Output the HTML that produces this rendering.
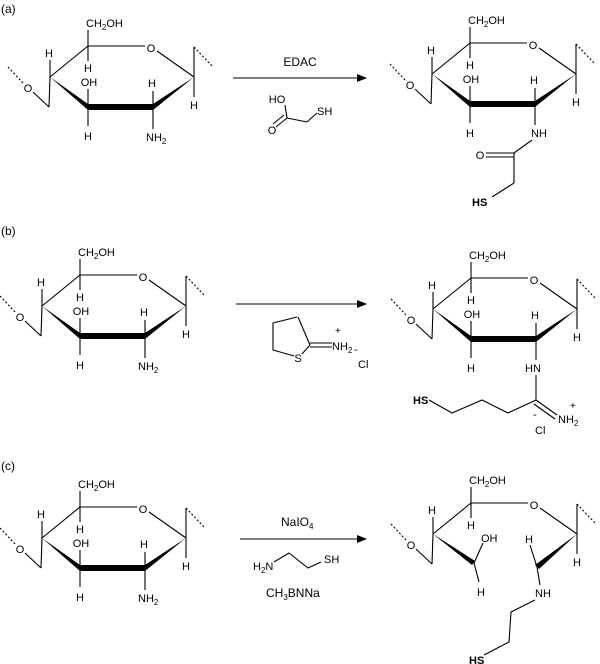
<!DOCTYPE html>
<html><head><meta charset="utf-8"><style>
html,body{margin:0;padding:0;background:#fff;}
svg{display:block;font-family:"Liberation Sans",Arial,sans-serif;font-size:11px;}
text{fill:#000;}
.m{text-anchor:middle;}
line,polyline{stroke:#000;stroke-width:1.1;fill:none;}
.d{stroke-dasharray:2,2;}
.b{font-weight:bold;}
</style></head><body>
<svg width="600" height="664" viewBox="0 0 600 664" xmlns="http://www.w3.org/2000/svg">
<defs><marker id="ar" markerWidth="10" markerHeight="8" refX="9" refY="4" orient="auto" markerUnits="userSpaceOnUse"><path d="M0,0 L10,4 L0,8 Z" fill="#000"/></marker></defs>

<text x="1" y="13" font-size="12">(a)</text>
<text x="1" y="235" font-size="12">(b)</text>
<text x="1" y="470" font-size="12">(c)</text>

<!-- Left (a) -->
<g transform="translate(0,0)">
<text x="86" y="27">CH<tspan font-size="8" dy="3">2</tspan><tspan dy="-3">OH</tspan></text>
<line x1="88" y1="46" x2="88" y2="30"/>
<line x1="50" y1="77" x2="88" y2="46"/><line x1="88" y1="46" x2="145" y2="46"/>
<text class="m" x="151" y="52">O</text><line x1="157" y1="51" x2="194" y2="77"/>
<line x1="194" y1="77" x2="194" y2="47"/><line class="d" x1="194" y1="47" x2="212" y2="66"/>
<line x1="194" y1="77" x2="194" y2="97"/><text class="m" x="194" y="109">H</text>
<line x1="88" y1="46" x2="88" y2="61"/><text class="m" x="88" y="72">H</text>
<line x1="50" y1="77" x2="50" y2="60"/><text class="m" x="49" y="57">H</text>
<line x1="50" y1="77" x2="49" y2="107"/><line x1="49" y1="107" x2="33" y2="92"/>
<text class="m" x="28" y="92">O</text><line class="d" x1="23" y1="83" x2="8" y2="67"/>
<polygon points="50,77 88,104 88,110"/><rect x="88" y="104" width="65" height="6"/><polygon points="153,104 153,110 194,77"/>
<text class="m" x="89" y="86">OH</text><line x1="88" y1="89" x2="88" y2="107"/>
<line x1="88" y1="107" x2="88" y2="126"/><text class="m" x="88" y="140">H</text>
<line x1="153" y1="107" x2="153" y2="91"/><text class="m" x="152" y="87">H</text>
<line x1="153" y1="107" x2="153" y2="129"/><text x="146" y="141">NH<tspan font-size="8" dy="3">2</tspan></text>
</g>

<!-- Left (b) -->
<g transform="translate(-8,229)">
<text x="86" y="27">CH<tspan font-size="8" dy="3">2</tspan><tspan dy="-3">OH</tspan></text>
<line x1="88" y1="46" x2="88" y2="30"/>
<line x1="50" y1="77" x2="88" y2="46"/><line x1="88" y1="46" x2="145" y2="46"/>
<text class="m" x="151" y="52">O</text><line x1="157" y1="51" x2="194" y2="77"/>
<line x1="194" y1="77" x2="194" y2="47"/><line class="d" x1="194" y1="47" x2="212" y2="66"/>
<line x1="194" y1="77" x2="194" y2="97"/><text class="m" x="194" y="109">H</text>
<line x1="88" y1="46" x2="88" y2="61"/><text class="m" x="88" y="72">H</text>
<line x1="50" y1="77" x2="50" y2="60"/><text class="m" x="49" y="57">H</text>
<line x1="50" y1="77" x2="49" y2="107"/><line x1="49" y1="107" x2="33" y2="92"/>
<text class="m" x="28" y="92">O</text><line class="d" x1="23" y1="83" x2="8" y2="67"/>
<polygon points="50,77 88,104 88,110"/><rect x="88" y="104" width="65" height="6"/><polygon points="153,104 153,110 194,77"/>
<text class="m" x="89" y="86">OH</text><line x1="88" y1="89" x2="88" y2="107"/>
<line x1="88" y1="107" x2="88" y2="126"/><text class="m" x="88" y="140">H</text>
<line x1="153" y1="107" x2="153" y2="91"/><text class="m" x="152" y="87">H</text>
<line x1="153" y1="107" x2="153" y2="129"/><text x="146" y="141">NH<tspan font-size="8" dy="3">2</tspan></text>
</g>

<!-- Left (c) -->
<g transform="translate(-8,461)">
<text x="86" y="27">CH<tspan font-size="8" dy="3">2</tspan><tspan dy="-3">OH</tspan></text>
<line x1="88" y1="46" x2="88" y2="30"/>
<line x1="50" y1="77" x2="88" y2="46"/><line x1="88" y1="46" x2="145" y2="46"/>
<text class="m" x="151" y="52">O</text><line x1="157" y1="51" x2="194" y2="77"/>
<line x1="194" y1="77" x2="194" y2="47"/><line class="d" x1="194" y1="47" x2="212" y2="66"/>
<line x1="194" y1="77" x2="194" y2="97"/><text class="m" x="194" y="109">H</text>
<line x1="88" y1="46" x2="88" y2="61"/><text class="m" x="88" y="72">H</text>
<line x1="50" y1="77" x2="50" y2="60"/><text class="m" x="49" y="57">H</text>
<line x1="50" y1="77" x2="49" y2="107"/><line x1="49" y1="107" x2="33" y2="92"/>
<text class="m" x="28" y="92">O</text><line class="d" x1="23" y1="83" x2="8" y2="67"/>
<polygon points="50,77 88,104 88,110"/><rect x="88" y="104" width="65" height="6"/><polygon points="153,104 153,110 194,77"/>
<text class="m" x="89" y="86">OH</text><line x1="88" y1="89" x2="88" y2="107"/>
<line x1="88" y1="107" x2="88" y2="126"/><text class="m" x="88" y="140">H</text>
<line x1="153" y1="107" x2="153" y2="91"/><text class="m" x="152" y="87">H</text>
<line x1="153" y1="107" x2="153" y2="129"/><text x="146" y="141">NH<tspan font-size="8" dy="3">2</tspan></text>
</g>

<!-- Right (a) -->
<g transform="translate(382,-3)">
<text x="86" y="27">CH<tspan font-size="8" dy="3">2</tspan><tspan dy="-3">OH</tspan></text>
<line x1="88" y1="46" x2="88" y2="30"/>
<line x1="50" y1="77" x2="88" y2="46"/><line x1="88" y1="46" x2="145" y2="46"/>
<text class="m" x="151" y="52">O</text><line x1="157" y1="51" x2="194" y2="77"/>
<line x1="194" y1="77" x2="194" y2="47"/><line class="d" x1="194" y1="47" x2="212" y2="66"/>
<line x1="194" y1="77" x2="194" y2="97"/><text class="m" x="194" y="109">H</text>
<line x1="88" y1="46" x2="88" y2="61"/><text class="m" x="88" y="72">H</text>
<line x1="50" y1="77" x2="50" y2="60"/><text class="m" x="49" y="57">H</text>
<line x1="50" y1="77" x2="49" y2="107"/><line x1="49" y1="107" x2="33" y2="92"/>
<text class="m" x="28" y="92">O</text><line class="d" x1="23" y1="83" x2="8" y2="67"/>
<polygon points="50,77 88,104 88,110"/><rect x="88" y="104" width="65" height="6"/><polygon points="153,104 153,110 194,77"/>
<text class="m" x="89" y="86">OH</text><line x1="88" y1="89" x2="88" y2="107"/>
<line x1="88" y1="107" x2="88" y2="126"/><text class="m" x="88" y="140">H</text>
<line x1="153" y1="107" x2="153" y2="91"/><text class="m" x="152" y="87">H</text>
<line x1="153" y1="107" x2="153" y2="128"/><text x="149" y="140">NH</text>
<line x1="150" y1="143" x2="132" y2="156"/>
<line x1="132" y1="156" x2="104" y2="156"/><line x1="132" y1="160" x2="104" y2="160"/>
<text class="m" x="98" y="162">O</text>
<line x1="132" y1="156" x2="132" y2="186"/><line x1="132" y1="186" x2="110" y2="200"/>
<text class="b" x="90" y="209">HS</text>
</g>

<!-- Right (b) -->
<g transform="translate(383,232)">
<text x="86" y="27">CH<tspan font-size="8" dy="3">2</tspan><tspan dy="-3">OH</tspan></text>
<line x1="88" y1="46" x2="88" y2="30"/>
<line x1="50" y1="77" x2="88" y2="46"/><line x1="88" y1="46" x2="145" y2="46"/>
<text class="m" x="151" y="52">O</text><line x1="157" y1="51" x2="194" y2="77"/>
<line x1="194" y1="77" x2="194" y2="47"/><line class="d" x1="194" y1="47" x2="212" y2="66"/>
<line x1="194" y1="77" x2="194" y2="97"/><text class="m" x="194" y="109">H</text>
<line x1="88" y1="46" x2="88" y2="61"/><text class="m" x="88" y="72">H</text>
<line x1="50" y1="77" x2="50" y2="60"/><text class="m" x="49" y="57">H</text>
<line x1="50" y1="77" x2="49" y2="107"/><line x1="49" y1="107" x2="33" y2="92"/>
<text class="m" x="28" y="92">O</text><line class="d" x1="23" y1="83" x2="8" y2="67"/>
<polygon points="50,77 88,104 88,110"/><rect x="88" y="104" width="65" height="6"/><polygon points="153,104 153,110 194,77"/>
<text class="m" x="89" y="86">OH</text><line x1="88" y1="89" x2="88" y2="107"/>
<line x1="88" y1="107" x2="88" y2="126"/><text class="m" x="88" y="140">H</text>
<line x1="153" y1="107" x2="153" y2="91"/><text class="m" x="152" y="87">H</text>
<line x1="153" y1="107" x2="153" y2="128"/><text class="m" x="150" y="140">HN</text>
<line x1="153" y1="143" x2="153" y2="168"/>
<polyline points="153,168 125,181 99,168 69,181 46,168"/>
<text class="b" x="30" y="172">HS</text>
<line x1="153" y1="168" x2="174" y2="183"/><line x1="151" y1="172" x2="172" y2="187"/>
<text x="175" y="191">NH<tspan font-size="8" dy="3">2</tspan></text>
<text x="187" y="177" font-size="10">+</text>
<text x="150" y="186" font-size="11">-</text>
<text x="152" y="202">Cl</text>
</g>

<!-- Right (c) -->
<g transform="translate(383,457)">
<text x="86" y="27">CH<tspan font-size="8" dy="3">2</tspan><tspan dy="-3">OH</tspan></text>
<line x1="88" y1="46" x2="88" y2="30"/>
<line x1="50" y1="77" x2="88" y2="46"/><line x1="88" y1="46" x2="145" y2="46"/>
<text class="m" x="151" y="52">O</text><line x1="157" y1="51" x2="194" y2="77"/>
<line x1="194" y1="77" x2="194" y2="47"/><line class="d" x1="194" y1="47" x2="212" y2="66"/>
<line x1="194" y1="77" x2="194" y2="97"/><text class="m" x="194" y="109">H</text>
<line x1="88" y1="46" x2="88" y2="61"/><text class="m" x="88" y="72">H</text>
<line x1="50" y1="77" x2="50" y2="60"/><text class="m" x="49" y="57">H</text>
<line x1="50" y1="77" x2="49" y2="107"/><line x1="49" y1="107" x2="33" y2="92"/>
<text class="m" x="28" y="92">O</text><line class="d" x1="23" y1="83" x2="8" y2="67"/>
<polygon points="50,77 89,108 92,104"/>
<line x1="91" y1="106" x2="100" y2="86"/><text x="98" y="85">OH</text>
<line x1="91" y1="106" x2="96" y2="125"/><text class="m" x="98" y="139">H</text>
<polygon points="152,108 156,112 194,77"/>
<line x1="154" y1="110" x2="147" y2="88"/><text class="m" x="146" y="86">H</text>
<line x1="154" y1="110" x2="157" y2="128"/><text x="152" y="140">NH</text>
<polyline points="152,143 128,155 126,185 101,198"/>
<text class="b" x="86" y="207">HS</text>
</g>

<!-- Middle (a) -->
<text class="m" x="300" y="66" font-size="12">EDAC</text>
<line x1="233" y1="78" x2="366" y2="78" marker-end="url(#ar)"/>
<text class="m" x="277" y="103">HO</text>
<line x1="285" y1="105" x2="287" y2="118"/>
<line x1="287" y1="118" x2="276" y2="127"/><line x1="284" y1="115" x2="273" y2="124"/>
<text class="m" x="272" y="134">O</text>
<line x1="287" y1="118" x2="307" y2="122"/><line x1="307" y1="122" x2="317" y2="113"/>
<text x="317" y="115">SH</text>

<!-- Middle (b) -->
<line x1="236" y1="304" x2="366" y2="304" marker-end="url(#ar)"/>
<polyline points="297,317 273,323 273,350 294,356"/>
<line x1="302" y1="354" x2="310" y2="345"/><line x1="310" y1="345" x2="298" y2="317"/>
<text class="m" x="298" y="362">S</text>
<line x1="310" y1="343" x2="332" y2="343"/><line x1="310" y1="347" x2="332" y2="347"/>
<text x="332" y="350">NH<tspan font-size="8" dy="3">2</tspan></text>
<text x="335" y="334" font-size="10">+</text>
<text x="354" y="353">-</text>
<text x="358" y="368">Cl</text>

<!-- Middle (c) -->
<text x="281" y="526" font-size="12">NaIO<tspan font-size="8" dy="3">4</tspan></text>
<line x1="240" y1="539" x2="366" y2="539" marker-end="url(#ar)"/>
<text x="253" y="570">H<tspan font-size="8" dy="3">2</tspan><tspan dy="-3">N</tspan></text>
<polyline points="274,562 289,553 308,568 321,562"/>
<text x="324" y="563">SH</text>
<text x="266" y="597" font-size="12">CH<tspan font-size="8" dy="3">3</tspan><tspan dy="-3">BNNa</tspan></text>
</svg>
</body></html>
